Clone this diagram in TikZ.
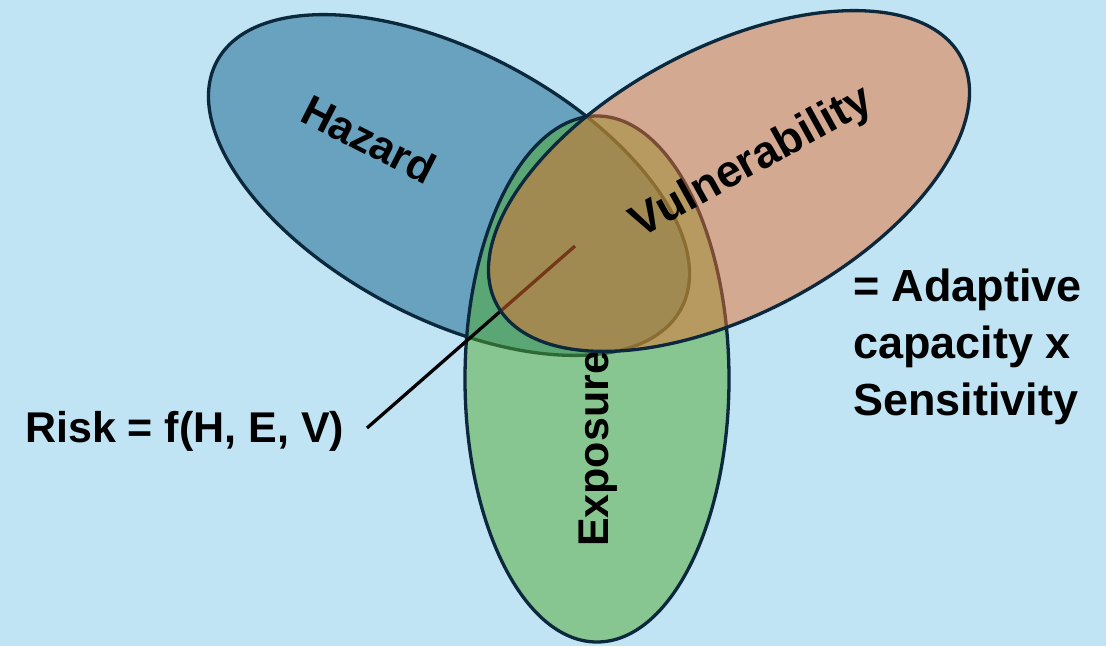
\documentclass[tikz,border=0pt]{standalone}
\usepackage{fontspec}
\setmainfont{Liberation Sans}
\definecolor{bg}{RGB}{192,228,244}
\definecolor{edge}{RGB}{12,40,60}
\definecolor{hazfill}{RGB}{104,162,190}
\definecolor{expfill}{RGB}{80,170,46}
\definecolor{vulfill}{RGB}{232,112,48}
\begin{document}
\begin{tikzpicture}[x=1pt,y=-1pt,
  lbl/.style={font=\bfseries\fontsize{43}{57}\selectfont, inner sep=0pt, text=black},
  biglbl/.style={lbl, font=\bfseries\fontsize{45}{57}\selectfont},
  ell/.style={draw=edge, line width=3.3pt},
  pointer/.style={draw=black, line width=3.3pt}
]
\fill[bg] (0,0) rectangle (1106,646);
\useasboundingbox (0,0) rectangle (1106,646);
\coordinate (H) at (449,185);
\coordinate (E) at (597,379);
\coordinate (V) at (729,181);
% Hazard
\draw[ell, fill=hazfill, rotate around={-28:(H)}] (H) ellipse [x radius=263, y radius=133];
\node[lbl, rotate=-27] (hazard) at (369,139) {Hazard};
% Exposure
\draw[ell, fill=expfill, fill opacity=0.5] (E) ellipse [x radius=132, y radius=263];
\node[lbl, rotate=90] (exposure) at (598,449) {Exposure};
% pointer line
\node[lbl, anchor=base west] (risk) at (25,442) {Risk = f(H, E, V)};
\coordinate (rs) at (367,428);
\coordinate (rp) at (575,246);
\draw[pointer] (rs) -- (rp);
% Vulnerability
\draw[ell, fill=vulfill, fill opacity=0.5, rotate around={28:(V)}] (V) ellipse [x radius=263, y radius=133];
\node[biglbl, rotate=29] (vulner) at (752,163) {Vulnerability};
\node[biglbl, anchor=base west, align=left] (adapt) at (853,415) {= Adaptive\\capacity x\\Sensitivity};
\end{tikzpicture}
\end{document}
